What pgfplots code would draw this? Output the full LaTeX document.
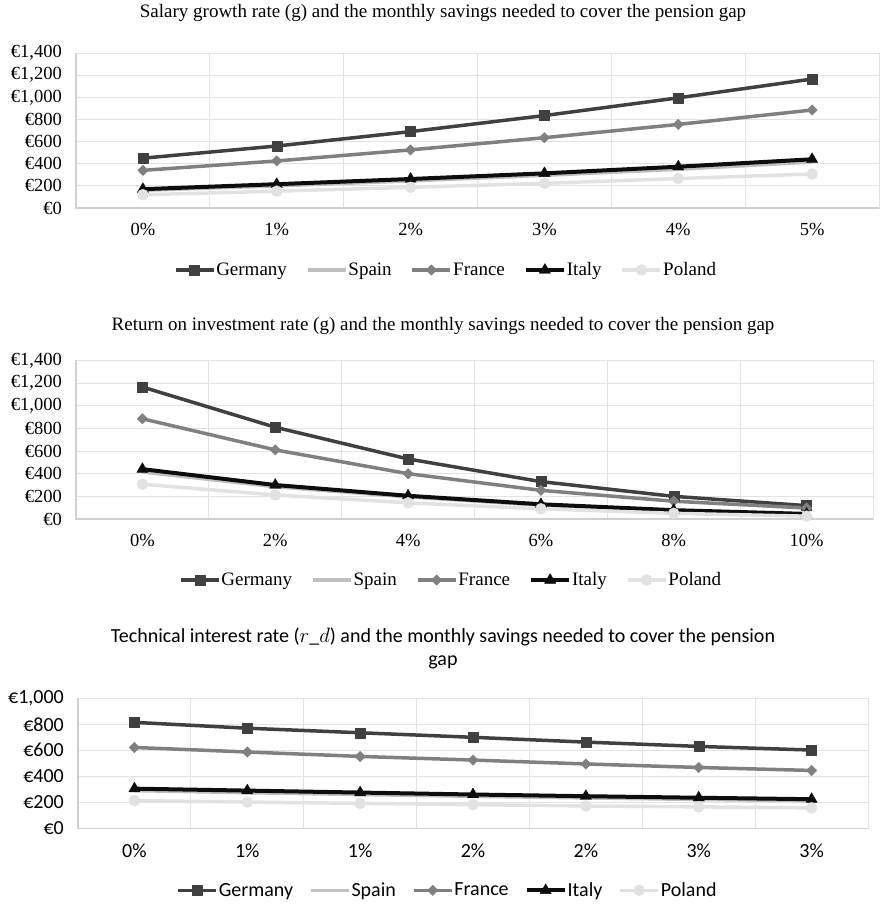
\documentclass[border=0pt]{standalone}
\usepackage{pgfplots}
\usepackage{pgfplotstable}
\pgfplotsset{compat=1.18}
\usepackage{fontspec}
\setmainfont{Liberation Serif}
\newfontfamily\calibri{Carlito}

\definecolor{deu}{HTML}{404040}
\definecolor{esp}{HTML}{BFBFBF}
\definecolor{fra}{HTML}{808080}
\definecolor{ita}{HTML}{0D0D0D}
\definecolor{pol}{HTML}{E2E2E2}
\definecolor{gridc}{HTML}{E3E3E3}
\definecolor{axisc}{HTML}{D0D0D0}

\newcommand\tnrfont{\rmfamily\fontsize{19}{22}\selectfont}
\newcommand\tnrtick{\rmfamily\fontsize{18.5}{21}\selectfont}
\newcommand\calfont{\calibri\fontsize{20}{23}\selectfont}
% euro amounts as text in the font in force
\newcommand\eur[1]{\mbox{€#1}}

% monthly savings (EUR) needed to cover the pension gap
\pgfplotstableread{
x   deu  esp  fra  ita  pol
0.5 450  160  340  170  120
1.5 560  200  425  215  152
2.5 690  245  525  262  187
3.5 835  295  635  313  223
4.5 995  350  755  373  266
5.5 1165 415  885  440  307
}\salary
\pgfplotstableread{
x   deu  esp  fra  ita  pol
0.5 1165 415  885  440  307
1.5 810  285  610  300  212
2.5 530  195  400  205  143
3.5 330  122  253  130  90
4.5 200  72   157  78   50
5.5 118  42   97   45   25
}\invest
\pgfplotstableread{
x   deu  esp  fra  ita  pol
0.5 815  290  622  305  213
1.5 770  274  587  290  202
2.5 735  260  553  275  192
3.5 700  246  525  260  182
4.5 663  234  495  247  172
5.5 630  222  468  235  165
6.5 602  212  445  224  157
}\technical

\pgfplotsset{
  gapchart/.style={
    scale only axis, anchor=south west,
    xmin=0, ymin=0,
    axis line style={draw=gridc, line width=1pt},
    major tick length=0pt, minor tick length=0pt,
    ymajorgrids, xminorgrids,
    grid style={draw=gridc, line width=1pt},
    minor grid style={draw=gridc, line width=1pt},
    xticklabel style={inner sep=0pt, yshift=-15pt},
    yticklabel style={inner sep=0pt, xshift=-14pt},
    clip=false,
    legend columns=5,
    legend style={draw=none, fill=none, anchor=center, inner sep=0pt,
      nodes={inner xsep=1pt},
      /tikz/every even column/.append style={column sep=18pt}},
    legend image code/.code={\draw[##1, mark repeat=2, mark phase=2]
      plot coordinates {(0pt,0pt) (19pt,0pt) (38pt,0pt)};},
  },
  deuS/.style={color=deu, line width=3.5pt, line join=round, mark=square*, mark size=5pt, mark options={solid, line width=0.4pt}},
  espS/.style={color=esp, line width=3.5pt, line join=round, no markers},
  fraS/.style={color=fra, line width=3.5pt, line join=round, mark=square*, mark size=3.7pt, mark options={solid, rotate=45, line width=0.4pt}},
  itaS/.style={color=ita, line width=4pt, line join=round, mark=triangle*, mark size=6.5pt, mark options={solid, line width=0.4pt}},
  polS/.style={color=pol, line width=3.5pt, line join=round, mark=*, mark size=5.5pt, mark options={solid, line width=0.4pt}},
}

\newcommand\axisframe{\draw[axisc, line width=1.5pt] (rel axis cs:0,1) -- (rel axis cs:0,0) -- (rel axis cs:1,0);}

\begin{document}
\begin{tikzpicture}
\path (0pt,0pt) rectangle (885pt,-905pt);

% salary growth
\node[font=\tnrfont] at (443pt,-13pt) {Salary growth rate (g) and the monthly savings needed to cover the pension gap};
\begin{axis}[gapchart, at={(76pt,-208pt)}, width=803pt, height=155pt,
  xmax=6, ymax=1400,
  xtick={0.5,1.5,...,5.5}, xticklabels={0\%,1\%,2\%,3\%,4\%,5\%},
  minor xtick={1,...,5},
  ytick={0,200,...,1400},
  yticklabels={\eur{0},\eur{200},\eur{400},\eur{600},\eur{800},\eur{1,000},\eur{1,200},\eur{1,400}},
  tick label style={font=\tnrtick},
  legend style={font=\tnrfont, at={(axis description cs:0.46,-0.40)}}]
\axisframe
\addplot[deuS] table[x=x,y=deu]{\salary};
\addplot[espS] table[x=x,y=esp]{\salary};
\addplot[fraS] table[x=x,y=fra]{\salary};
\addplot[itaS] table[x=x,y=ita]{\salary};
\addplot[polS] table[x=x,y=pol]{\salary};
\legend{Germany,Spain,France,Italy,Poland}
\end{axis}

% return on investment
\node[font=\tnrfont] at (443pt,-326pt) {Return on investment rate (g) and the monthly savings needed to cover the pension gap};
\begin{axis}[gapchart, at={(76pt,-519pt)}, width=797pt, height=158.6pt,
  xmax=6, ymax=1400,
  xtick={0.5,1.5,...,5.5}, xticklabels={0\%,2\%,4\%,6\%,8\%,10\%},
  minor xtick={1,...,5},
  ytick={0,200,...,1400},
  yticklabels={\eur{0},\eur{200},\eur{400},\eur{600},\eur{800},\eur{1,000},\eur{1,200},\eur{1,400}},
  tick label style={font=\tnrtick},
  legend style={font=\tnrfont, at={(axis description cs:0.47,-0.385)}}]
\axisframe
\addplot[deuS] table[x=x,y=deu]{\invest};
\addplot[espS] table[x=x,y=esp]{\invest};
\addplot[fraS] table[x=x,y=fra]{\invest};
\addplot[itaS] table[x=x,y=ita]{\invest};
\addplot[polS] table[x=x,y=pol]{\invest};
\legend{Germany,Spain,France,Italy,Poland}
\end{axis}

% technical interest rate
\node[font=\calfont, align=center] at (443pt,-648pt) {Technical interest rate ($r\_d$) and the monthly savings needed to cover the pension\\gap};
\begin{axis}[gapchart, at={(78pt,-828.3pt)}, width=790pt, height=130pt,
  xmax=7, ymax=1000,
  xtick={0.5,1.5,...,6.5}, xticklabels={0\%,1\%,1\%,2\%,2\%,3\%,3\%},
  minor xtick={1,...,6},
  ytick={0,200,...,1000},
  yticklabels={\eur{0},\eur{200},\eur{400},\eur{600},\eur{800},\eur{1,000}},
  tick label style={font=\calfont},
  legend style={font=\calfont, at={(axis description cs:0.467,-0.477)},
    /tikz/every even column/.append style={column sep=15pt}}]
\axisframe
\addplot[deuS] table[x=x,y=deu]{\technical};
\addplot[espS] table[x=x,y=esp]{\technical};
\addplot[fraS] table[x=x,y=fra]{\technical};
\addplot[itaS] table[x=x,y=ita]{\technical};
\addplot[polS] table[x=x,y=pol]{\technical};
\legend{Germany,Spain,France,Italy,Poland}
\end{axis}
\end{tikzpicture}
\end{document}
